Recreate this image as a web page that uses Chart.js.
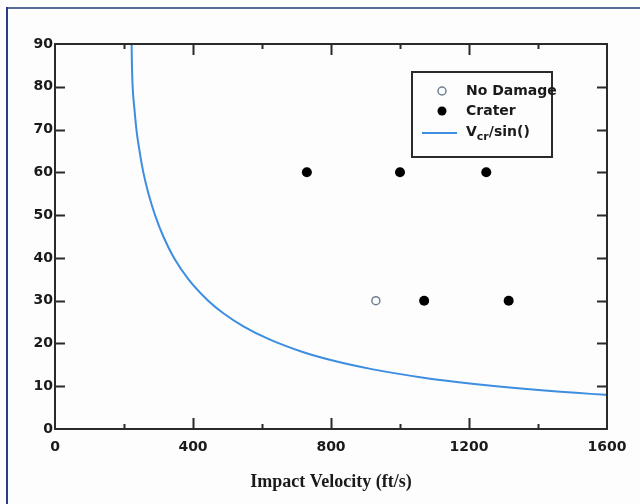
<!DOCTYPE html>
<html lang="en">
<head>
    <meta charset="UTF-8">
    <title>Impact Velocity</title>
    <script src="https://cdn.jsdelivr.net/npm/chart.js"></script>
    <style>
        body {
            margin: 0;
            background: #fdfdfe;
        }
        #wrap {
            position: relative;
            width: 640px;
            height: 504px;
        }
    </style>
</head>
<body>
    <div id="wrap">
        <canvas id="chart" width="640" height="504"></canvas>
    </div>

    <script>
        // values
        const curveVelocity = [222, 223, 225, 230, 236, 245, 256, 271, 290, 314, 345, 387, 444, 489, 546, 620, 718, 805, 918, 1068, 1164, 1279, 1419, 1595, 1600];
        const curveAngle    = [90, 85, 80, 75, 70, 65, 60, 55, 50, 45, 40, 35, 30, 27, 24, 21, 18, 16, 14, 12, 11, 10, 9, 8, 7.98];
        const noDamageVelocity = [930];
        const noDamageAngle    = [30];
        const craterVelocity = [730, 1000, 1250, 1070, 1315];
        const craterAngle    = [60, 60, 60, 30, 30];
        const xTicks = [0, 400, 800, 1200, 1600];
        const yTicks = [0, 10, 20, 30, 40, 50, 60, 70, 80, 90];
        const legendLabels = ["No Damage", "Crater"];

        const toPoints = (xs, ys) => xs.map((x, i) => ({ x: x, y: ys[i] }));

        const tickFont = { family: "'DejaVu Sans', sans-serif", size: 14, weight: "bold" };

        // outer page border
        const borderPlugin = {
            id: "outerBorder",
            beforeDraw(chart) {
                const ctx = chart.ctx;
                ctx.save();
                ctx.lineWidth = 2;
                ctx.strokeStyle = "#5b6a9c";
                ctx.beginPath();
                ctx.moveTo(6, 8);
                ctx.lineTo(640, 8);
                ctx.stroke();
                ctx.strokeStyle = "#2b3a8c";
                ctx.beginPath();
                ctx.moveTo(7, 7);
                ctx.lineTo(7, 504);
                ctx.stroke();
                ctx.restore();
            }
        };

        // frame with inward tick marks on all four sides
        const framePlugin = {
            id: "frame",
            afterDatasetsDraw(chart) {
                const ctx = chart.ctx;
                const a = chart.chartArea;
                const xs = chart.scales.x, ys = chart.scales.y;
                ctx.save();
                ctx.strokeStyle = "#2a2a2a";
                ctx.lineWidth = 2;
                ctx.strokeRect(a.left, a.top, a.right - a.left, a.bottom - a.top);
                ctx.beginPath();
                for (let v = 200; v < 1600; v += 200) {
                    const px = Math.round(xs.getPixelForValue(v)) + 0.5;
                    const len = v % 400 === 0 ? 11 : 5;
                    ctx.moveTo(px, a.bottom);
                    ctx.lineTo(px, a.bottom - len);
                    ctx.moveTo(px, a.top);
                    ctx.lineTo(px, a.top + len);
                }
                yTicks.slice(1, -1).forEach(v => {
                    const py = Math.round(ys.getPixelForValue(v)) + 0.5;
                    ctx.moveTo(a.left, py);
                    ctx.lineTo(a.left + 10, py);
                    ctx.moveTo(a.right, py);
                    ctx.lineTo(a.right - 10, py);
                });
                ctx.stroke();
                ctx.restore();
            }
        };

        // boxed legend in the upper right
        const legendPlugin = {
            id: "boxLegend",
            afterDraw(chart) {
                const ctx = chart.ctx;
                ctx.save();
                ctx.strokeStyle = "#2a2a2a";
                ctx.lineWidth = 2;
                ctx.strokeRect(412, 72, 140, 85);

                ctx.font = "bold 14px 'DejaVu Sans', sans-serif";
                ctx.fillStyle = "#1a1a1a";
                ctx.textBaseline = "middle";

                ctx.beginPath();
                ctx.arc(442, 91, 4, 0, Math.PI * 2);
                ctx.lineWidth = 1.5;
                ctx.strokeStyle = "#6f7f90";
                ctx.stroke();
                ctx.fillText(legendLabels[0], 466, 91);

                ctx.beginPath();
                ctx.arc(442, 111, 4.5, 0, Math.PI * 2);
                ctx.fillStyle = "#000";
                ctx.fill();
                ctx.fillStyle = "#1a1a1a";
                ctx.fillText(legendLabels[1], 466, 111);

                ctx.beginPath();
                ctx.strokeStyle = "#3d8ee0";
                ctx.lineWidth = 2;
                ctx.moveTo(422, 133);
                ctx.lineTo(457, 133);
                ctx.stroke();

                ctx.fillText("V", 466, 132);
                let x = 466 + ctx.measureText("V").width;
                ctx.font = "bold 11px 'DejaVu Sans', sans-serif";
                ctx.fillText("cr", x, 137);
                x += ctx.measureText("cr").width;
                ctx.font = "bold 14px 'DejaVu Sans', sans-serif";
                ctx.fillText("/sin()", x, 132);
                ctx.restore();
            }
        };

        new Chart(document.getElementById("chart"), {
            type: "scatter",
            data: {
                datasets: [
                    {
                        label: "Vcr/sin()",
                        data: toPoints(curveVelocity, curveAngle),
                        showLine: true,
                        borderColor: "#3d8ee0",
                        borderWidth: 2,
                        pointRadius: 0,
                        cubicInterpolationMode: "monotone",
                        fill: false
                    },
                    {
                        label: "No Damage",
                        data: toPoints(noDamageVelocity, noDamageAngle),
                        pointRadius: 4,
                        pointBackgroundColor: "#ffffff",
                        pointBorderColor: "#6f7f90",
                        pointBorderWidth: 1.5
                    },
                    {
                        label: "Crater",
                        data: toPoints(craterVelocity, craterAngle),
                        pointRadius: 5,
                        pointBackgroundColor: "#000000",
                        pointBorderColor: "#000000",
                        pointBorderWidth: 0
                    }
                ]
            },
            options: {
                responsive: false,
                animation: false,
                layout: { padding: { top: 44, right: 33, left: 0, bottom: 0 } },
                plugins: {
                    legend: { display: false },
                    tooltip: { enabled: false }
                },
                scales: {
                    x: {
                        type: "linear",
                        min: 0,
                        max: 1600,
                        afterBuildTicks: s => { s.ticks = xTicks.map(v => ({ value: v })); },
                        afterFit: s => { s.height = 75; },
                        grid: { display: false, drawTicks: false },
                        border: { display: false },
                        ticks: { font: tickFont, color: "#1a1a1a", padding: 10, maxRotation: 0, callback: v => String(v) },
                        title: {
                            display: true,
                            text: "Impact Velocity (ft/s)",
                            font: { family: "'Liberation Serif', 'Times New Roman', serif", size: 18, weight: "bold" },
                            color: "#1a1a1a",
                            padding: { top: 0, bottom: 11 }
                        }
                    },
                    y: {
                        type: "linear",
                        min: 0,
                        max: 90,
                        afterBuildTicks: s => { s.ticks = yTicks.map(v => ({ value: v })); },
                        afterFit: s => { s.width = 55; },
                        grid: { display: false, drawTicks: false },
                        border: { display: false },
                        ticks: { font: tickFont, color: "#1a1a1a", padding: 2, callback: v => String(v) }
                    }
                }
            },
            plugins: [borderPlugin, framePlugin, legendPlugin]
        });
    </script>
</body>
</html>
